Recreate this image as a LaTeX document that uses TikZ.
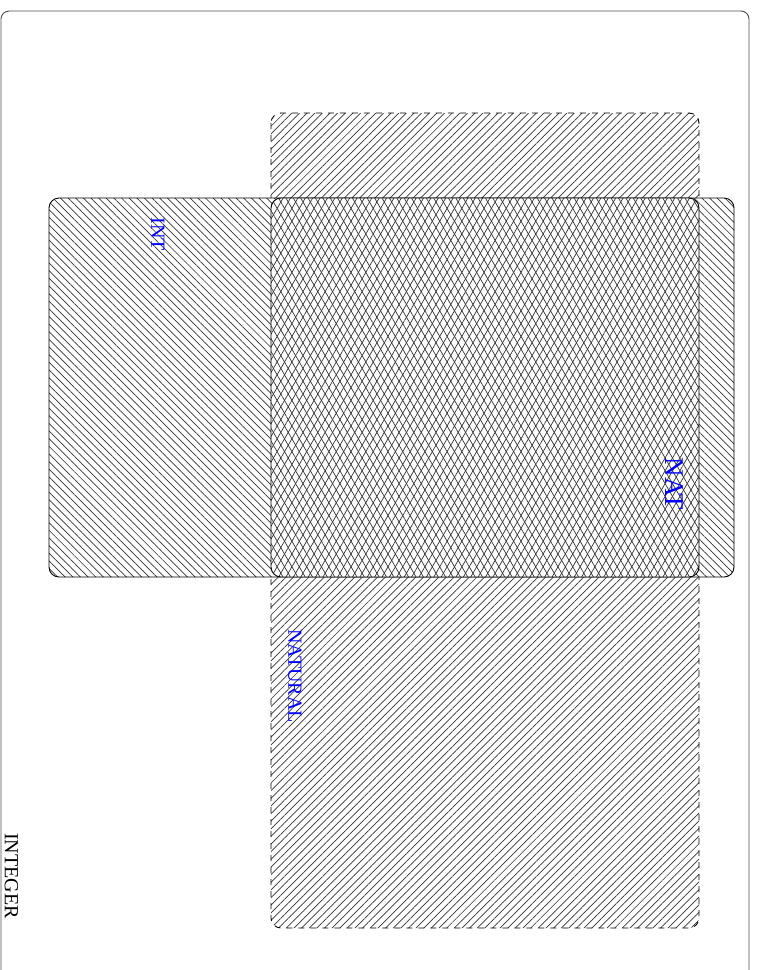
\documentclass[tikz,border=0pt]{standalone}
\usepackage{fontspec}
\setmainfont{Liberation Serif}
\usetikzlibrary{patterns,patterns.meta}
\begin{document}
\begin{tikzpicture}[
x=0.5pt, y=-0.5pt,
every node/.style={font=\normalsize, inner sep=0pt},
frame/.style={draw, gray!60!black, line width=0.45pt, rounded corners=4pt},
intset/.style={
    draw,
    line width=0.45pt,
    rounded corners=5pt,
    preaction={fill=white},
    pattern={Lines[angle=-45, distance=2.7pt, line width=0.35pt]},
    pattern color=black!80
},
natset/.style={
    draw,
    dashed,
    line width=0.45pt,
    rounded corners=5pt,
    pattern={Lines[angle=45, distance=2.7pt, line width=0.35pt]},
    pattern color=black!80
},
bothset/.style={
    draw,
    line width=0.45pt,
    rounded corners=5pt,
    preaction={fill=white},
    pattern={Lines[angle=60, distance=3.2pt, line width=0.35pt]},
    pattern color=black!80,
    postaction={pattern={Lines[angle=-60, distance=3.2pt, line width=0.35pt]},
        pattern color=black!80}
},
setlabel/.style={text=blue, rotate=-90}
]

% =====================================================
% Page and outer frame
% =====================================================

\useasboundingbox (0,0) rectangle (757,970);
\draw[frame] (1,11) rectangle (749,1000);

% =====================================================
% Sets
% =====================================================

% NATURAL (dashed)
\draw[natset] (271,113) rectangle (699,928);

% INT (solid)
\draw[intset] (49,198) rectangle (734,577);

% Overlap of both
\draw[bothset] (271,198) rectangle (699,577);

% =====================================================
% Labels
% =====================================================

\node[setlabel] (labint) at (158,234) {INT};
\node[setlabel, font=\fontsize{13.5}{16}\selectfont] (labnat) at (674,484) {NAT};
\node[setlabel] (labnatural) at (295,676) {NATURAL};
\node[rotate=-90] (labinteger) at (11.5,876) {INTEGER};

\end{tikzpicture}
\end{document}
